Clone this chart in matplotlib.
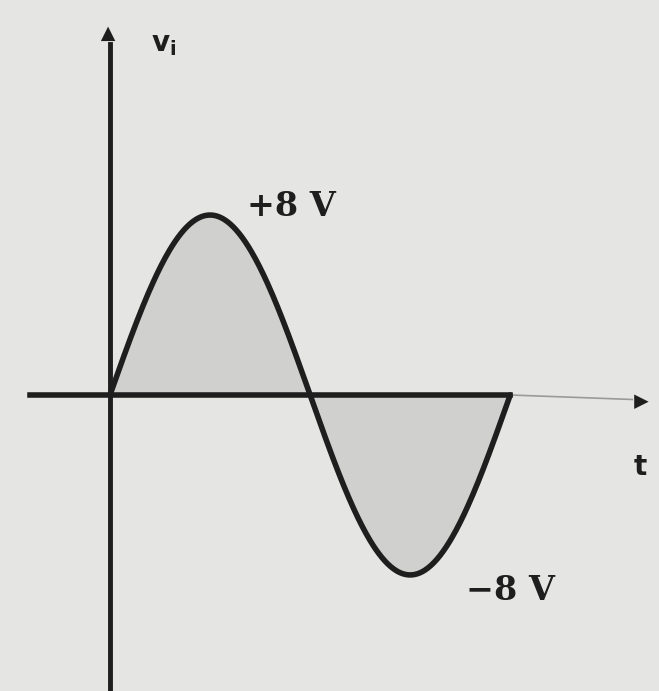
import numpy as np
import matplotlib.pyplot as plt

# Datos de la señal: v_i = 8 sen(t), un periodo completo
amplitud = 8          # V
periodo = 2 * np.pi   # rad
t = np.linspace(0, periodo, 400)
v = amplitud * np.sin(t)

etiqueta_pos = '+8 V'
etiqueta_neg = '\u22128 V'
etiqueta_y = r'$\mathbf{v_i}$'
etiqueta_x = r'$\mathbf{t}$'

# Figura de 659x691 px, ejes ocupando todo el lienzo
fig = plt.figure(figsize=(6.59, 6.91), dpi=100)
fig.patch.set_facecolor('#e5e5e3')
ax = fig.add_axes((0, 0, 1, 1))
ax.set_facecolor('#e5e5e3')
ax.set_xlim(-1.727, 8.619)
ax.set_ylim(-13.16, 17.56)
ax.axis('off')

tinta = '#1e1e1e'

# Sombreado de los semiciclos
ax.fill_between(t, v, 0, color='#d0d0ce', lw=0, zorder=1)

# Curva
ax.plot(t, v, color=tinta, lw=4.0, solid_capstyle='round', zorder=3)

# Eje horizontal: trazo grueso hasta el final del periodo, luego fino con flecha
ax.plot([-1.256, periodo], [0, 0], color=tinta, lw=4.0, zorder=2)
ax.plot([periodo, 8.2], [0, -0.2], color='#9a9a9a', lw=1.2, zorder=2)
ax.annotate('', xy=(8.5, -0.3), xytext=(8.15, -0.3),
            arrowprops=dict(arrowstyle='-|>', color=tinta, lw=0,
                            mutation_scale=26))

# Eje vertical con flecha
ax.plot([0, 0], [-13.5, 15.6], color=tinta, lw=3.5, zorder=2)
ax.annotate('', xy=(-0.03, 16.5), xytext=(-0.03, 15.0),
            arrowprops=dict(arrowstyle='-|>', color=tinta, lw=0,
                            mutation_scale=26))

# Textos
ax.text(0.85, 15.6, etiqueta_y, fontsize=20, color=tinta,
        ha='center', va='center')
ax.text(2.85, 8.4, etiqueta_pos, fontsize=24, fontweight='bold',
        color=tinta, family='DejaVu Serif', ha='center', va='center')
ax.text(6.28, -8.7, etiqueta_neg, fontsize=24, fontweight='bold',
        color=tinta, family='DejaVu Serif', ha='center', va='center')
ax.text(8.32, -3.2, etiqueta_x, fontsize=20, color=tinta,
        ha='center', va='center')

fig.savefig('out.png', dpi=100, facecolor=fig.get_facecolor())
